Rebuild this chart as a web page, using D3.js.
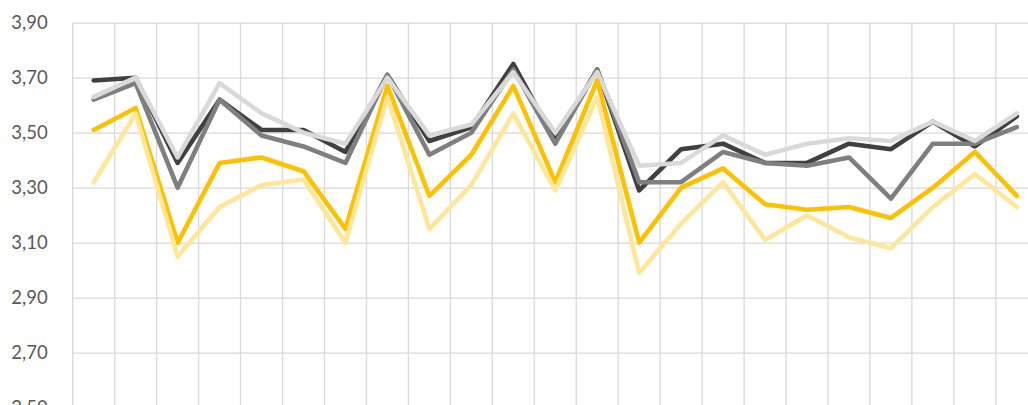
<!DOCTYPE html>
<html>
<head>
<meta charset="utf-8">
<script src="https://cdn.jsdelivr.net/npm/d3@7"></script>
<style>
  html, body { margin: 0; padding: 0; background: #fff; overflow: hidden; }
  svg { display: block; }
  .grid line, .grid path { stroke: #d9d9d9; stroke-width: 1.3px; }
  .grid text { fill: #595959; font-family: Lato, "Open Sans", sans-serif; font-size: 18.5px; }
</style>
</head>
<body>
<div id="chart"></div>
<script>
const categories = d3.range(1, 24).map(String);

const seriesDark   = [3.69, 3.70, 3.39, 3.62, 3.51, 3.51, 3.43, 3.71, 3.47, 3.52, 3.75, 3.47, 3.73, 3.29, 3.44, 3.46, 3.39, 3.39, 3.46, 3.44, 3.54, 3.45, 3.56];
const seriesMedium = [3.62, 3.68, 3.30, 3.62, 3.49, 3.45, 3.39, 3.71, 3.42, 3.50, 3.73, 3.46, 3.73, 3.32, 3.32, 3.43, 3.39, 3.38, 3.41, 3.26, 3.46, 3.46, 3.52];
const seriesLight  = [3.63, 3.70, 3.41, 3.68, 3.57, 3.50, 3.46, 3.70, 3.49, 3.53, 3.72, 3.50, 3.72, 3.38, 3.39, 3.49, 3.42, 3.46, 3.48, 3.47, 3.54, 3.47, 3.57];
const seriesGold   = [3.51, 3.59, 3.10, 3.39, 3.41, 3.36, 3.15, 3.67, 3.27, 3.42, 3.67, 3.32, 3.69, 3.10, 3.30, 3.37, 3.24, 3.22, 3.23, 3.19, 3.30, 3.43, 3.27];
const seriesPale   = [3.32, 3.57, 3.05, 3.23, 3.31, 3.33, 3.10, 3.63, 3.15, 3.31, 3.57, 3.29, 3.63, 2.99, 3.17, 3.32, 3.11, 3.20, 3.12, 3.08, 3.23, 3.35, 3.23];

const yTicks = [2.5, 2.7, 2.9, 3.1, 3.3, 3.5, 3.7, 3.9];

// drawing order: first one sits at the back
const series = [
  { values: seriesDark,   color: '#404040' },
  { values: seriesMedium, color: '#7f7f7f' },
  { values: seriesLight,  color: '#d9d9d9' },
  { values: seriesGold,   color: '#ffc000' },
  { values: seriesPale,   color: '#ffe699' },
];

const W = 1028, H = 405;
const margin = { top: 22.7, left: 72.7 };
const plotW = 965.1,   // plot runs past the right edge of the picture
      plotH = 385;

const x = d3.scaleBand().domain(categories).range([0, plotW]);
const y = d3.scaleLinear().domain([2.5, 3.9]).range([plotH, 0]);

const fmt = d3.formatLocale({ decimal: ',', thousands: '.', grouping: [3], currency: ['', ''] }).format('.2f');

const svg = d3.select('#chart').append('svg')
    .attr('width', W)
    .attr('height', H)
  .append('g')
    .attr('transform', `translate(${margin.left},${margin.top})`);

// horizontal gridlines + labels
const yAxis = svg.append('g')
    .attr('class', 'grid')
    .call(d3.axisLeft(y).tickValues(yTicks).tickFormat(fmt).tickSize(-plotW).tickPadding(25));
yAxis.select('.domain').remove();

// vertical gridlines on category edges
const edges = categories.map(c => x(c)).concat([x.range()[1]]);
svg.append('g')
    .attr('class', 'grid')
  .selectAll('line')
  .data(edges)
  .enter()
  .append('line')
    .attr('x1', d => d)
    .attr('x2', d => d)
    .attr('y1', 0)
    .attr('y2', plotH);

const line = d3.line()
    .x((d, i) => x(categories[i]) + x.bandwidth() / 2)
    .y(d => y(d));

svg.append('g')
  .selectAll('path')
  .data(series)
  .enter()
  .append('path')
    .attr('d', d => line(d.values))
    .attr('fill', 'none')
    .attr('stroke', d => d.color)
    .attr('stroke-width', 4.6)
    .attr('stroke-linejoin', 'round')
    .attr('stroke-linecap', 'round');
</script>
</body>
</html>
